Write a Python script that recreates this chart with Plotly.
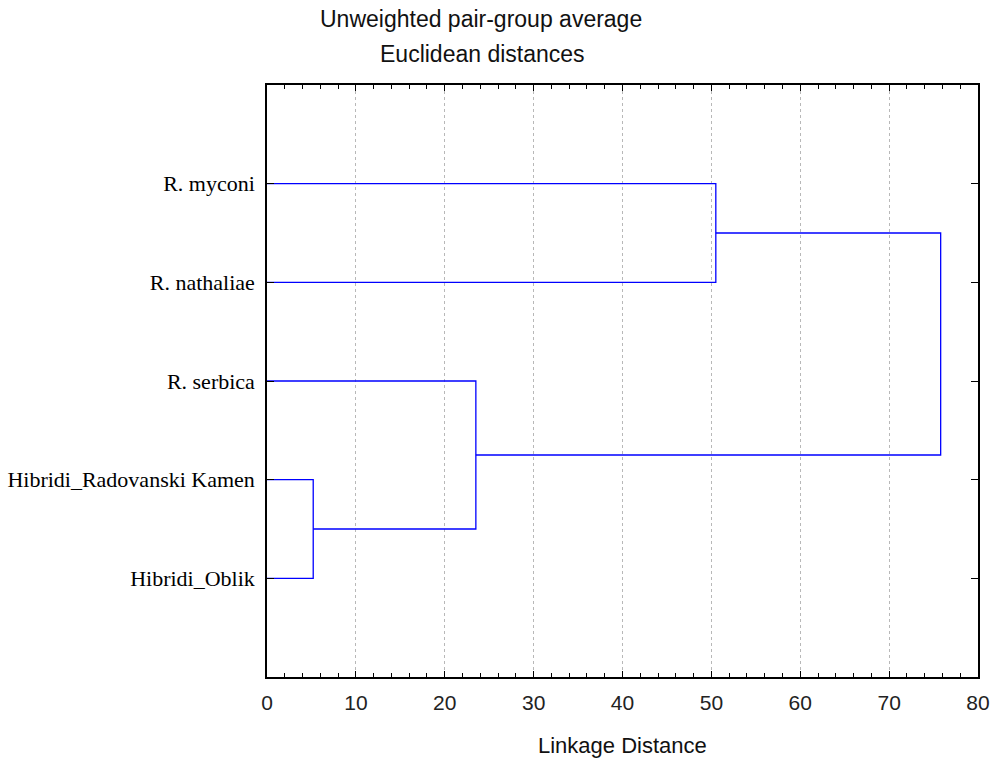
import plotly.graph_objects as go

# Data
leaf_labels = ["R. myconi", "R. nathaliae", "R. serbica",
               "Hibridi_Radovanski Kamen", "Hibridi_Oblik"]
leaf_pos = [5, 4, 3, 2, 1]
# merges: (left member, right member, height); members: leaf index or "c<k>" for cluster k
merges = [
    (3, 4, 5.2),          # c0: Radovanski + Oblik
    (2, "c0", 23.5),      # c1: serbica + c0
    (0, 1, 50.5),         # c2: myconi + nathaliae
    ("c2", "c1", 75.8),   # c3: root
]
x_ticks = [0, 10, 20, 30, 40, 50, 60, 70, 80]

BLUE = "#0000ff"
SANS = "Liberation Sans, Arial, sans-serif"
SERIF = "Liberation Serif, Times New Roman, serif"

L, R, T, B = 267, 14, 85, 83
PW, PH = 992 - L - R, 760 - T - B

def node_info(m, clusters):
    if isinstance(m, str):
        return clusters[int(m[1:])]
    return (leaf_pos[m], 0.0)

fig = go.Figure()
clusters = []
for a, b, h in merges:
    ya, xa = node_info(a, clusters)
    yb, xb = node_info(b, clusters)
    fig.add_trace(go.Scatter(
        x=[xa, h, h, xb], y=[ya, ya, yb, yb], mode="lines",
        line=dict(color=BLUE, width=1.3), hoverinfo="skip", showlegend=False))
    clusters.append(((ya + yb) / 2, h))

fig.update_layout(
    width=992, height=760,
    margin=dict(l=L, r=R, t=T, b=B, autoexpand=False),
    paper_bgcolor="white", plot_bgcolor="white",
    showlegend=False,
    font=dict(family=SANS, color="#000", size=22),
)
fig.update_xaxes(
    range=[0, 80], tickvals=x_ticks, ticks="inside", ticklen=6, tickcolor="#000",
    showline=True, linecolor="#000", linewidth=1.5, mirror="ticks",
    showgrid=True, gridcolor="#b8b8b8", griddash="dot", gridwidth=1,
    zeroline=False, automargin=False,
    minor=dict(dtick=2, ticks="inside", ticklen=4, tickcolor="#000", showgrid=False),
    tickfont=dict(size=21, family=SANS, color="#222"),
    ticklabelstandoff=6,
)
fig.update_yaxes(
    range=[0, 6], tickvals=leaf_pos, ticktext=leaf_labels,
    ticks="inside", ticklen=7, tickcolor="#000",
    showline=True, linecolor="#000", linewidth=1.5, mirror="ticks",
    showgrid=False, zeroline=False, automargin=False,
    tickfont=dict(size=22, family=SERIF, color="#000"),
    ticklabelstandoff=6,
)

def ann(text, xpx, ypx, size):
    fig.add_annotation(text=text, xref="paper", yref="paper",
                       x=(xpx - L) / PW, y=1 - (ypx - T) / PH, showarrow=False,
                       font=dict(size=size, family=SANS, color="#111"),
                       xanchor="center", yanchor="middle")

ann("Unweighted pair-group average", 481, 19, 23)
ann("Euclidean distances", 482, 54, 23)
ann("Linkage Distance", 622, 745, 22)

fig.write_html("out.html")
